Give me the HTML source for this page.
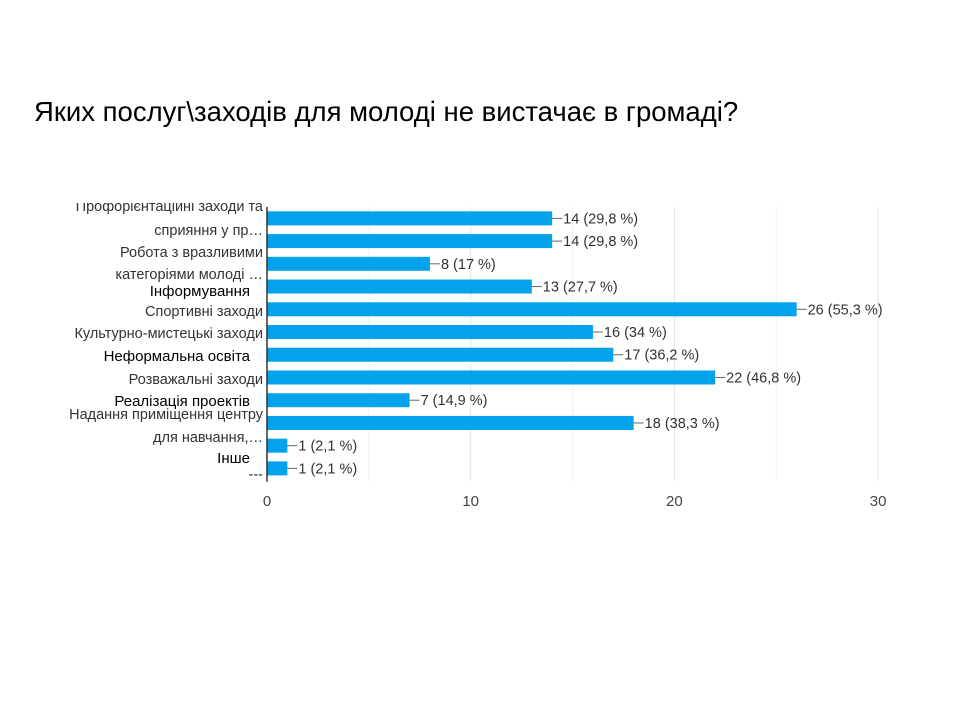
<!DOCTYPE html>
<html><head><meta charset="utf-8"><style>
body{margin:0;width:960px;height:720px;background:#fff;overflow:hidden;font-family:"Liberation Sans",sans-serif}
</style></head><body>
<div style="position:absolute;left:34px;top:96px;font-size:27.5px;color:#000;font-family:'Liberation Sans',sans-serif;white-space:nowrap">Яких послуг\заходів для молоді не вистачає в громаді?</div>
<svg id="c" width="960" height="720" style="position:absolute;left:0;top:0">
<defs><clipPath id="cl"><rect x="0" y="203" width="960" height="400"/></clipPath></defs>
</svg>
<script>
const values=[14,14,8,13,26,16,17,22,7,18,1,1];
const pcts=["29,8","29,8","17","27,7","55,3","34","36,2","46,8","14,9","38,3","2,1","2,1"];
const ticks=[0,10,20,30];
const labels=[["Профорієнтаційні заходи та",211,0],["сприяння у пр…",235,0],["Робота з вразливими",257,0],["категоріями молоді …",279,0],["Інформування",296,1],["Спортивні заходи",316,0],["Культурно-мистецькі заходи",338,0],["Неформальна освіта",361,1],["Розважальні заходи",384,0],["Реалізація проектів",406,1],["Надання приміщення центру",419,0],["для навчання,…",442,0],["Інше",463,1],["---",479,0]];
const NS="http://www.w3.org/2000/svg";
const svg=document.getElementById('c');
const x0=267,sc=20.37,top0=207,pitch=22.73,bh=14;
const X=v=>x0+v*sc;
const Y=i=>top0+pitch*(i+0.5);
function mk(t,a){const e=document.createElementNS(NS,t);for(const k in a)e.setAttribute(k,a[k]);svg.appendChild(e);return e;}
for(let v=5;v<=30;v+=5){const g=mk('line',{x1:X(v),x2:X(v),y1:top0,y2:top0+pitch*12+1,stroke:v%10?'#f2f2f2':'#e4e4e4','stroke-width':1});

}
ticks.forEach(t=>{const e=mk('text',{x:X(t),y:506,'font-size':15,fill:'#444','text-anchor':'middle'});e.textContent=t;

});
values.forEach((v,i)=>{const r=mk('rect',{x:x0,y:Y(i)-bh/2,width:X(v)-x0,height:bh,fill:'#03a3ec'});


const l=mk('line',{x1:X(v),x2:X(v)+10,y1:Y(i),y2:Y(i),stroke:'#666','stroke-width':1});


const t=mk('text',{x:X(v)+11,y:Y(i)+5,'font-size':14.5,fill:'#333'});t.textContent=v+' ('+pcts[i]+' %)';

});
const ax=mk('line',{x1:x0,x2:x0,y1:top0,y2:top0+pitch*12+2,stroke:'#333','stroke-width':1.5});


labels.forEach(([s,y,b])=>{const t=mk('text',{x:b?250:263,y:y,'font-size':b?15:14.5,fill:b?'#000':'#333','text-anchor':'end','clip-path':'url(#cl)'});t.textContent=s;

});
</script>
</body></html>
